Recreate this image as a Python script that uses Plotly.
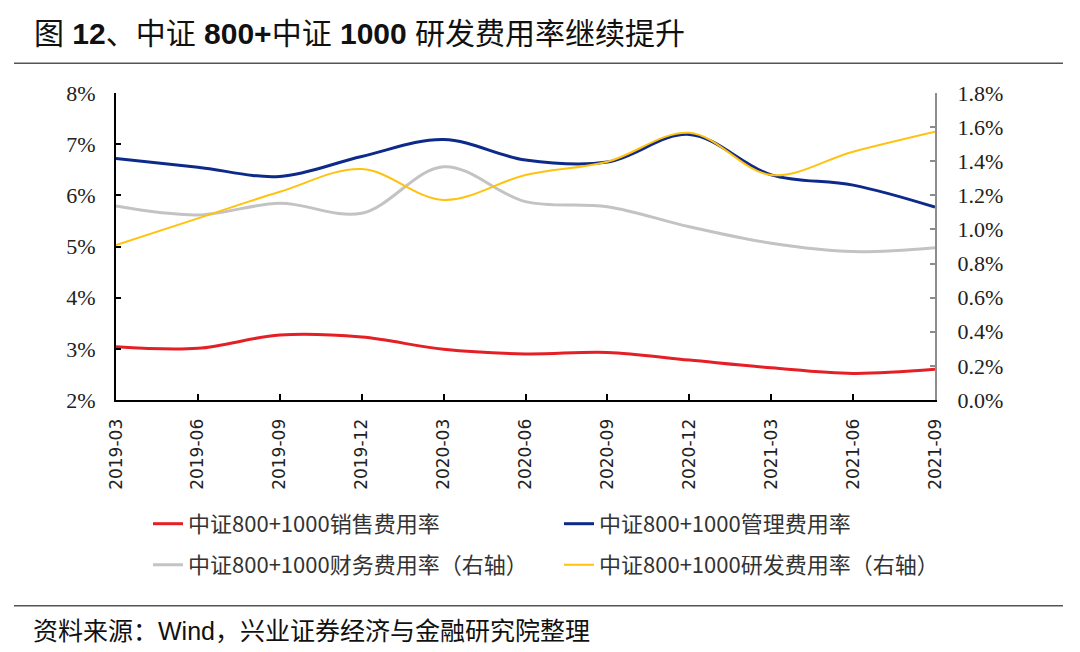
import plotly.graph_objects as go

categories = ["2019-03", "2019-06", "2019-09", "2019-12", "2020-03", "2020-06",
              "2020-09", "2020-12", "2021-03", "2021-06", "2021-09"]
sales_rate = [3.04, 3.01, 3.27, 3.23, 2.99, 2.90, 2.93, 2.78, 2.63, 2.52, 2.60]
mgmt_rate = [6.72, 6.55, 6.37, 6.76, 7.09, 6.69, 6.65, 7.19, 6.40, 6.20, 5.77]
fin_rate = [1.137, 1.085, 1.153, 1.095, 1.368, 1.163, 1.133, 1.016, 0.919, 0.870, 0.893]
rd_rate = [0.909, 1.065, 1.221, 1.354, 1.173, 1.319, 1.397, 1.567, 1.319, 1.456, 1.573]

names = ["中证800+1000销售费用率", "中证800+1000管理费用率",
         "中证800+1000财务费用率（右轴）", "中证800+1000研发费用率（右轴）"]
colors = ["#E41F26", "#0D2A8A", "#C3C3C3", "#FFC20E"]

OFF = 8  # page body margin
W, H = 1080 - 2 * OFF, 652 - 2 * OFF
L, R, T, B = 116, 935, 92.7, 400.0  # plot area in window pixels


def px(x):
    return (x - L) / (R - L)


def py(y):
    return (B - y) / (B - T)


fig = go.Figure()
fig.add_trace(go.Scatter(x=categories, y=sales_rate, name=names[0], mode="lines",
                         line=dict(color=colors[0], width=3, shape="spline", smoothing=1),
                         legend="legend"))
fig.add_trace(go.Scatter(x=categories, y=mgmt_rate, name=names[1], mode="lines",
                         line=dict(color=colors[1], width=3, shape="spline", smoothing=1),
                         legend="legend"))
fig.add_trace(go.Scatter(x=categories, y=fin_rate, name=names[2], mode="lines", yaxis="y2",
                         line=dict(color=colors[2], width=3, shape="spline", smoothing=1),
                         legend="legend2"))
fig.add_trace(go.Scatter(x=categories, y=rd_rate, name=names[3], mode="lines", yaxis="y2",
                         line=dict(color=colors[3], width=2, shape="spline", smoothing=1),
                         legend="legend2"))

tick_font = dict(family="Liberation Serif, Times New Roman, serif", size=22, color="#222")
legend_font = dict(family="Noto Sans CJK SC, SimSun, serif", size=22, color="#333")

fig.update_layout(
    width=W, height=H,
    margin=dict(l=L - OFF, r=(W + OFF) - R, t=T - OFF, b=(H + OFF) - B, pad=0),
    plot_bgcolor="white", paper_bgcolor="white",
    xaxis=dict(type="category", range=[0, 10], showgrid=False, showline=True,
               linecolor="black", linewidth=2, ticks="inside", ticklen=6,
               tickcolor="black", tickwidth=1.5, tickangle=-90,
               tickfont=dict(family="DejaVu Sans, Verdana, sans-serif", size=17, color="#222"),
               ticklabelstandoff=10),
    yaxis=dict(range=[2, 8], dtick=1, ticksuffix="%", showgrid=False, zeroline=False,
               showline=True, linecolor="black", linewidth=2, ticks="inside", ticklen=5,
               tickcolor="black", tickwidth=1.5, tickfont=tick_font, ticklabelstandoff=14),
    yaxis2=dict(range=[0, 1.8], dtick=0.2, tickformat=".1f", ticksuffix="%",
                overlaying="y", side="right", showgrid=False, zeroline=False,
                showline=True, linecolor="#8C8C8C", linewidth=2, ticks="inside", ticklen=5,
                tickcolor="#8C8C8C", tickwidth=1.5, tickfont=tick_font, ticklabelstandoff=16),
    legend=dict(orientation="h", x=px(148), y=py(503), xanchor="left", yanchor="top",
                entrywidth=366, entrywidthmode="pixels", font=legend_font,
                bgcolor="rgba(0,0,0,0)"),
    legend2=dict(orientation="h", x=px(148), y=py(544), xanchor="left", yanchor="top",
                 entrywidth=366, entrywidthmode="pixels", font=legend_font,
                 bgcolor="rgba(0,0,0,0)"),
    showlegend=True,
)

fig.add_annotation(
    text="图 <b>12</b>、中证 <b>800+</b>中证 <b>1000</b> 研发费用率继续提升",
    xref="paper", yref="paper", x=px(32), y=py(33), xanchor="left", yanchor="middle",
    showarrow=False,
    font=dict(family="Liberation Sans, Arial, Noto Sans CJK SC", size=30, color="#111"))

fig.add_annotation(
    text="资料来源：Wind，兴业证券经济与金融研究院整理",
    xref="paper", yref="paper", x=px(31), y=py(631), xanchor="left", yanchor="middle",
    showarrow=False,
    font=dict(family="Liberation Sans, Arial, Noto Sans CJK SC", size=25, color="#111"))

for yy in (63, 606):
    fig.add_shape(type="line", xref="paper", yref="paper", x0=px(14), x1=px(1063),
                  y0=py(yy), y1=py(yy), line=dict(color="#555555", width=1.5))

fig.write_html("out.html")
